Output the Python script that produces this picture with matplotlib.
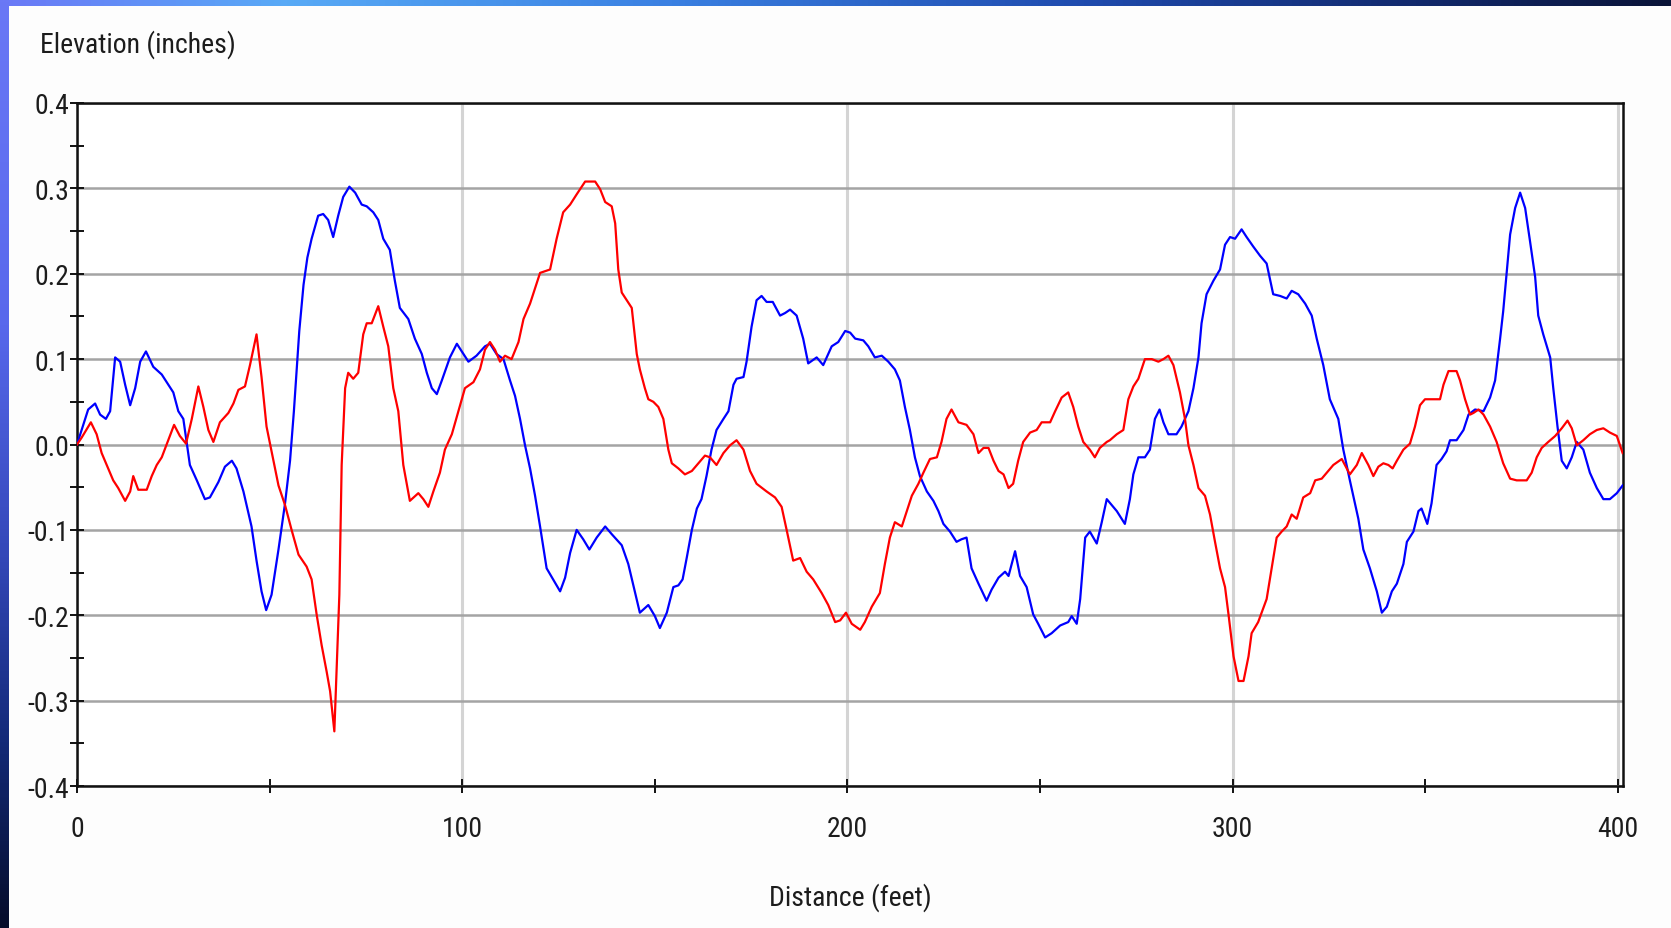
import numpy as np
import matplotlib
matplotlib.use('Agg')
import matplotlib.pyplot as plt
from matplotlib.colors import LinearSegmentedColormap
from matplotlib.ticker import MultipleLocator

# ---------------- data ----------------
blue_x = [0, 1.2, 2.9, 4.7, 6.0, 7.5, 8.6, 9.9, 11.2, 12.5, 13.8, 15.1, 16.4, 17.9, 19.8, 22.0, 23.7, 25.0,
          26.3, 27.6, 28.5, 29.3, 31.1, 33.2, 34.5, 36.7, 38.4, 40.2, 41.4, 43.2, 45.3, 46.6, 47.9, 49.1,
          50.5, 52.3, 54.0, 55.3, 56.3, 57.7, 58.8, 59.8, 60.9, 62.6, 63.9, 65.2,
          66.5, 67.8, 69.1, 70.7, 72.2, 73.9, 75.2, 76.9, 78.2, 79.5, 81.2, 82.5, 83.8, 86.0, 87.7, 89.5,
          90.8, 92.1, 93.4, 94.7, 96.8, 98.6, 100.3, 101.6, 103.7, 105.9, 107.2, 108.9, 110.7, 112.4,
          113.7, 115.0, 116.3, 117.6, 118.9, 120.2, 121.9, 123.6, 125.4, 126.7, 128.0, 129.7, 131.4, 133.0,
          134.9, 137.1, 138.8, 141.4, 143.1, 144.8, 146.1, 148.3, 150.0, 151.3, 153.1, 154.8, 156.1, 157.2,
          158.3, 159.6, 160.9, 162.1, 163.4, 164.7, 166.0, 167.8, 169.1, 170.4, 171.2, 173.0, 173.8, 175.1,
          176.4, 177.7, 179.0, 180.6, 182.5, 183.8, 185.1, 186.8, 188.5, 189.8, 192.0, 193.7, 195.9, 197.6,
          199.4,
          200.7, 202.0, 204.1, 205.4, 207.1, 208.9, 210.6, 212.3, 213.6, 214.9, 216.2, 217.5, 218.8, 220.6,
          222.3, 223.6, 224.9, 226.6, 228.3, 229.6, 230.9, 232.2, 234.0, 236.1, 237.4, 239.2, 240.9, 241.8,
          243.5, 244.8, 246.5, 248.2, 249.5, 251.3, 253.0, 255.2, 257.3, 258.2, 259.5, 260.4, 261.7, 262.9,
          264.7, 266.0, 267.3,
          269.9, 272.0, 273.3, 274.2, 275.5, 277.2, 278.5, 279.8, 281.0, 282.0, 283.3, 285.4, 286.7, 288.5,
          289.8, 291.1, 291.9, 293.2, 295.0, 296.7, 298.0, 299.3, 300.6, 302.3, 303.6, 305.3, 307.1, 308.8,
          310.5, 312.3, 314.0, 315.3, 317.0, 318.8, 320.5, 321.8, 323.5, 325.2, 327.4, 328.7, 330.4, 332.6,
          333.9, 335.6,
          337.4, 338.7, 340.0, 341.3, 342.6, 344.3, 345.2, 346.9, 348.2, 349.0, 350.5, 351.6, 352.9, 354.2,
          355.5, 356.4, 358.1, 359.9, 361.2, 362.9, 365.1, 366.8, 368.1, 369.4, 370.2, 371.1, 372.0, 373.3,
          374.6, 375.9, 377.2, 378.5, 379.3, 380.6, 382.4, 383.2, 384.3, 385.4, 386.7, 388.0, 389.3, 391.0,
          392.7, 394.5, 396.2, 397.9, 399.7, 401.2]
blue_y = [0.0, 0.017, 0.041, 0.048, 0.035, 0.030, 0.039, 0.102, 0.097, 0.070, 0.046, 0.066, 0.097, 0.109,
          0.091, 0.082, 0.070, 0.061, 0.039, 0.030, 0.001, -0.024, -0.042, -0.064, -0.062, -0.044, -0.026,
          -0.019, -0.028, -0.055, -0.096, -0.136, -0.172, -0.194, -0.176, -0.123, -0.069, -0.019, 0.039,
          0.133, 0.187, 0.219, 0.241, 0.268, 0.270, 0.263,
          0.243, 0.268, 0.290, 0.302, 0.295, 0.281, 0.279, 0.272, 0.263, 0.241, 0.228, 0.192, 0.160, 0.147,
          0.124, 0.106, 0.084, 0.066, 0.059, 0.075, 0.102, 0.118, 0.106, 0.097, 0.104, 0.115, 0.118, 0.106,
          0.100, 0.075, 0.057, 0.030, -0.001, -0.028, -0.060, -0.096, -0.145, -0.158, -0.172, -0.156, -0.127,
          -0.100, -0.111, -0.123,
          -0.109, -0.096, -0.105, -0.118, -0.140, -0.172, -0.197, -0.188, -0.201, -0.215, -0.197, -0.167,
          -0.165, -0.158, -0.132, -0.100, -0.075, -0.064, -0.037, -0.006, 0.017, 0.030, 0.039, 0.070, 0.077,
          0.079, 0.097, 0.138, 0.169, 0.174, 0.167, 0.167, 0.151, 0.154, 0.158, 0.151, 0.124, 0.095, 0.102,
          0.093, 0.115, 0.120, 0.133,
          0.131, 0.124, 0.122, 0.115, 0.102, 0.104, 0.097, 0.088, 0.075, 0.044, 0.017, -0.015, -0.037,
          -0.055, -0.066, -0.078, -0.093, -0.102, -0.114, -0.111, -0.109, -0.145, -0.163, -0.183, -0.170,
          -0.156, -0.149, -0.154, -0.125, -0.154, -0.167, -0.199, -0.210, -0.226, -0.221, -0.212, -0.208,
          -0.201, -0.210, -0.181, -0.109, -0.102, -0.116, -0.091, -0.064,
          -0.078, -0.093, -0.064, -0.035, -0.015, -0.015, -0.006, 0.030, 0.041, 0.026, 0.012, 0.012, 0.021,
          0.039, 0.066, 0.102, 0.142, 0.176, 0.192, 0.205, 0.234, 0.243, 0.241, 0.252, 0.243, 0.232, 0.221,
          0.212, 0.176, 0.174, 0.171, 0.180, 0.176, 0.165, 0.151, 0.124, 0.093, 0.053, 0.030, -0.006, -0.042,
          -0.087, -0.123, -0.145,
          -0.172, -0.197, -0.190, -0.172, -0.163, -0.140, -0.114, -0.102, -0.078, -0.075, -0.093, -0.069,
          -0.024, -0.017, -0.008, 0.005, 0.005, 0.017, 0.035, 0.041, 0.039, 0.055, 0.075, 0.124, 0.156,
          0.201, 0.246, 0.277, 0.295, 0.277, 0.237, 0.196, 0.151, 0.129, 0.102, 0.066, 0.021, -0.019,
          -0.028, -0.015, 0.003, -0.006, -0.033, -0.051, -0.064, -0.064, -0.057, -0.048]

red_x = [0, 1.2, 3.6, 5.1, 6.4, 7.7, 9.4, 10.7, 12.5, 13.8, 14.6, 15.9, 18.1, 19.4, 20.7, 22.0, 23.7, 25.2,
         26.7, 28.3, 29.8, 31.5, 32.8, 34.1, 35.4, 37.1, 39.3, 40.6, 41.9, 43.6, 44.9, 46.6, 47.9, 49.2,
         51.0, 52.3, 54.0, 55.7, 57.5, 59.6, 60.9, 62.2, 63.5, 64.8, 65.7, 66.8,
         67.4, 68.1, 68.7, 69.6, 70.4, 71.7, 73.0, 74.3, 75.2, 76.5, 78.2, 79.5, 80.8, 82.1, 83.4, 84.7,
         86.4, 88.6, 89.9, 91.2, 92.5, 94.2, 95.5, 97.3, 99.0, 100.7, 102.9, 104.6, 105.9, 107.2, 108.5,
         109.8, 111.1, 112.8, 114.6, 115.9, 117.6, 120.2, 122.8, 124.5, 126.2, 128.0, 129.7, 131.9,
         134.5, 135.8, 137.1, 138.8, 139.7, 140.5, 141.4, 142.7, 144.0, 145.3, 146.1, 147.4, 148.3, 149.6,
         150.9, 152.2, 153.5, 154.4, 156.1, 157.8, 159.6, 161.3, 163.0, 164.3, 166.0, 167.8, 169.5, 171.2,
         173.0, 174.7, 176.4, 179.0, 181.2, 182.9, 184.2, 185.9, 187.7, 189.4, 191.1, 193.3, 195.0, 196.8,
         198.1, 199.6, 201.1,
         203.3, 204.5, 206.3, 208.4, 209.7, 211.0, 212.3, 214.1, 215.4, 216.7, 218.4, 219.7, 221.4, 223.2,
         224.4, 225.7, 227.0, 228.8, 230.9, 232.7, 234.0, 235.3, 236.6, 237.9, 239.2, 240.5, 241.8, 243.0,
         244.3, 245.6, 247.4, 249.1, 250.4, 252.6, 253.9, 255.6, 257.3, 258.6, 259.9, 261.2, 262.9, 264.2,
         265.5, 267.3,
         268.1, 269.9, 271.6, 272.9, 274.2, 275.5, 277.2, 279.0, 280.7, 282.0, 283.3, 284.6, 286.3, 287.6,
         288.5, 289.8, 291.1, 292.8, 294.1, 295.4, 296.7, 298.0, 298.9, 300.2, 301.5, 302.8, 304.1, 304.9,
         306.6, 308.8, 310.1, 311.4, 312.7, 314.0, 315.3, 316.6, 318.3, 320.1, 321.4, 323.1, 324.4, 326.1,
         328.3, 330.4, 332.2, 333.5, 335.2,
         336.5, 337.8, 339.1, 340.4, 341.5, 342.6, 344.3, 346.0, 347.3, 348.6, 349.9, 351.6, 353.8, 354.7,
         356.0, 358.1, 359.0, 360.3, 361.6, 362.5, 363.8, 365.1, 366.8, 368.5, 370.2, 372.0, 373.7, 376.3,
         377.6, 378.9, 380.2, 381.9, 383.7, 385.4, 386.9, 388.0, 389.3, 391.0, 392.7, 394.5, 396.2, 397.9,
         399.7, 401.2]
red_y = [0.0, 0.008, 0.026, 0.012, -0.010, -0.024, -0.042, -0.051, -0.066, -0.055, -0.037, -0.053, -0.053,
         -0.037, -0.024, -0.015, 0.005, 0.023, 0.010, 0.001, 0.030, 0.068, 0.044, 0.017, 0.003, 0.026, 0.037,
         0.048, 0.064, 0.068, 0.093, 0.129, 0.079, 0.021, -0.019, -0.048, -0.071, -0.100, -0.129, -0.143,
         -0.158, -0.199, -0.235, -0.266, -0.289, -0.336,
         -0.262, -0.176, -0.024, 0.066, 0.084, 0.077, 0.084, 0.129, 0.142, 0.142, 0.162, 0.138, 0.115, 0.066,
         0.039, -0.024, -0.066, -0.057, -0.064, -0.073, -0.055, -0.033, -0.006, 0.012, 0.039, 0.066, 0.073,
         0.088, 0.111, 0.120, 0.111, 0.097, 0.104, 0.100, 0.120, 0.147, 0.165, 0.201, 0.205, 0.241, 0.272,
         0.281, 0.293, 0.308,
         0.308, 0.299, 0.284, 0.279, 0.259, 0.205, 0.178, 0.169, 0.160, 0.106, 0.088, 0.066, 0.053, 0.050,
         0.044, 0.030, -0.006, -0.022, -0.028, -0.035, -0.031, -0.022, -0.013, -0.015, -0.024, -0.010,
         -0.001, 0.005, -0.006, -0.031, -0.046, -0.055, -0.062, -0.073, -0.100, -0.136, -0.133, -0.149,
         -0.158, -0.174, -0.188, -0.208, -0.206, -0.197, -0.210,
         -0.217, -0.208, -0.190, -0.174, -0.140, -0.109, -0.091, -0.096, -0.078, -0.060, -0.046, -0.033,
         -0.017, -0.015, 0.003, 0.030, 0.041, 0.026, 0.023, 0.012, -0.010, -0.004, -0.004, -0.019, -0.031,
         -0.035, -0.051, -0.046, -0.019, 0.003, 0.014, 0.017, 0.026, 0.026, 0.039, 0.055, 0.061, 0.044,
         0.021, 0.003, -0.006, -0.015, -0.004, 0.003,
         0.005, 0.012, 0.017, 0.053, 0.068, 0.077, 0.100, 0.100, 0.097, 0.100, 0.104, 0.093, 0.061, 0.030,
         -0.001, -0.024, -0.051, -0.060, -0.082, -0.114, -0.145, -0.167, -0.199, -0.248, -0.277, -0.277,
         -0.248, -0.221, -0.208, -0.181, -0.145, -0.109, -0.102, -0.096, -0.082, -0.087, -0.062, -0.057,
         -0.042, -0.040, -0.033, -0.024, -0.017, -0.035, -0.024, -0.010, -0.024,
         -0.037, -0.026, -0.022, -0.024, -0.028, -0.019, -0.006, 0.001, 0.021, 0.046, 0.053, 0.053, 0.053,
         0.070, 0.086, 0.086, 0.075, 0.053, 0.035, 0.037, 0.041, 0.035, 0.021, 0.003, -0.022, -0.040,
         -0.042, -0.042, -0.033, -0.015, -0.004, 0.003, 0.010, 0.019, 0.028, 0.019, -0.001, 0.005, 0.012,
         0.017, 0.019, 0.014, 0.010, -0.010]

x_ticks = [0, 100, 200, 300, 400]
x_tick_labels = ['0', '100', '200', '300', '400']
y_ticks = [-0.4, -0.3, -0.2, -0.1, 0.0, 0.1, 0.2, 0.3, 0.4]
y_tick_labels = ['-0.4', '-0.3', '-0.2', '-0.1', '0.0', '0.1', '0.2', '0.3', '0.4']
y_title = 'Elevation (inches)'
x_title = 'Distance (feet)'

# ---------------- figure ----------------
W, H = 1671, 929
fam = ['Liberation Sans Narrow', 'DejaVu Sans Condensed', 'Roboto Condensed',
       'Liberation Sans', 'DejaVu Sans']
plt.rcParams['font.family'] = fam
text_color = '#1c1c1c'
fs = 20

fig = plt.figure(figsize=(W / 100, H / 100), dpi=100, facecolor='#fdfdfd')

# decorative slide border (gradients)
top_cmap = LinearSegmentedColormap.from_list(
    'top', [(0.0, '#6a78f6'), (0.17, '#58aaf6'), (0.4, '#3a80e2'),
            (0.65, '#1f4bae'), (0.85, '#12296c'), (1.0, '#0a1438')])
left_cmap = LinearSegmentedColormap.from_list(
    'left', [(0.0, '#6a78f6'), (0.35, '#5868ec'), (0.6, '#3347b8'),
             (0.8, '#132a78'), (1.0, '#060c2a')])
tax = fig.add_axes([0, 1 - 7 / H, 1, 7 / H])
tax.imshow(np.linspace(0, 1, 512)[None, :], aspect='auto', cmap=top_cmap)
tax.set_axis_off()
lax = fig.add_axes([0, 0, 9 / W, 1])
lax.imshow(np.linspace(0, 1, 512)[:, None], aspect='auto', cmap=left_cmap)
lax.set_axis_off()

ax = fig.add_axes([77 / W, (H - 787) / H, (1623 - 77) / W, (787 - 104) / H])
ax.set_facecolor('white')

ax.plot(blue_x, blue_y, color='#0000ff', lw=1.6, zorder=3)
ax.plot(red_x, red_y, color='#ff0000', lw=1.6, zorder=3)

ax.set_xlim(0, 401.3)
ax.set_ylim(-0.4, 0.4)

ax.set_xticks(x_ticks)
ax.set_xticklabels(x_tick_labels)
ax.set_yticks(y_ticks)
ax.set_yticklabels(y_tick_labels)
ax.xaxis.set_minor_locator(MultipleLocator(50))
ax.yaxis.set_minor_locator(MultipleLocator(0.05))

ax.yaxis.grid(True, which='major', color='#a4a4a4', lw=1.8, zorder=1)
ax.xaxis.grid(True, which='major', color='#d4d4d4', lw=2.2, zorder=1)
ax.set_axisbelow(True)

for s in ax.spines.values():
    s.set_color('#111111')
    s.set_linewidth(1.8)

ax.tick_params(which='both', direction='inout', length=10, width=1.4, color='#111111')
ax.tick_params(axis='x', which='major', pad=16, labelsize=fs, labelcolor=text_color)
ax.tick_params(axis='y', which='major', pad=0.5, labelsize=fs, labelcolor=text_color)

fig.text(40 / W, 1 - 45 / H, y_title, ha='left', va='center', fontsize=fs, color=text_color)
fig.text(850 / W, 1 - 898 / H, x_title, ha='center', va='center', fontsize=fs, color=text_color)

fig.savefig('out.png', dpi=100, facecolor=fig.get_facecolor())
